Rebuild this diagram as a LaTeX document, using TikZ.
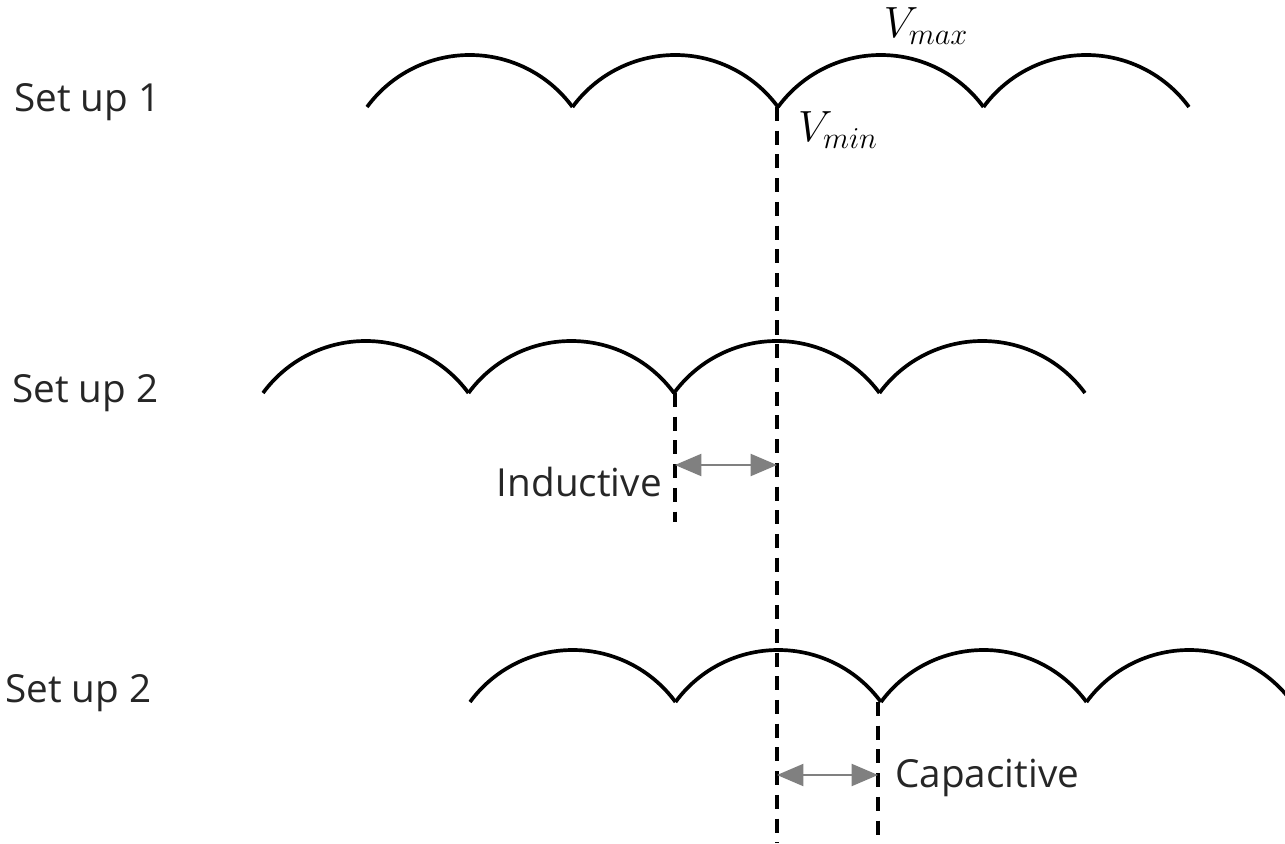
\documentclass[tikz,border=0pt]{standalone}
\usepackage{fontspec}
\setmainfont{Open Sans}
\usetikzlibrary{arrows.meta}
\tikzset{
  wave/.style={line width=2.1pt},
  guide/.style={line width=2.2pt,dash pattern=on 8pt off 5.5pt},
  shift arrow/.style={{Triangle[length=15pt,width=12.5pt]}-{Triangle[length=15pt,width=12.5pt]},line width=1.2pt,draw=black!50,fill=black!50},
  setlabel/.style={anchor=west,inner sep=0pt,text=black!85,font=\fontsize{22}{26}\selectfont},
  vlabel/.style={inner sep=0pt,font=\fontsize{27}{31}\selectfont}
}
\begin{document}
\begin{tikzpicture}[x=.02cm,y=.02cm]
\clip (0,0) rectangle (1285,843);
\fill[white] (0,0) rectangle (1285,843);
% three rows of arcs
\foreach \x/\y in {367/736, 263/450, 470/141}
  \foreach \i in {0,...,3}
    \draw[wave] (\x+205.5*\i,\y) arc[start angle=143.7,end angle=36.3,radius=2.55cm];
\node[setlabel] (row1) at (14,741) {Set up 1};
\node[setlabel] (row2) at (12,450) {Set up 2};
\node[setlabel] (row3) at (5,150) {Set up 2};
% reference points
\coordinate (vmin) at (777,736);
\coordinate (vbot) at (777,0);
\coordinate (ind) at (675,450);
\coordinate (indbot) at (675,321);
\coordinate (cap) at (878,141);
\coordinate (capbot) at (878,0);
\draw[guide] (vmin) -- (vbot);
\draw[guide] (ind) -- (indbot);
\draw[guide] (cap) -- (capbot);
\node[vlabel] (vmax) at (926,817) {$V_{max}$};
\node[vlabel] (vminlabel) at (838,713) {$V_{min}$};
% phase shifts
\coordinate (ind1) at (675,378);
\coordinate (ind2) at (777,378);
\coordinate (cap1) at (777,68);
\coordinate (cap2) at (878,68);
\draw[shift arrow] (ind1) -- (ind2);
\draw[shift arrow] (cap1) -- (cap2);
\node[setlabel,anchor=east] (inductive) at (662,361) {Inductive};
\node[setlabel] (capacitive) at (895,65) {Capacitive};
\end{tikzpicture}
\end{document}
